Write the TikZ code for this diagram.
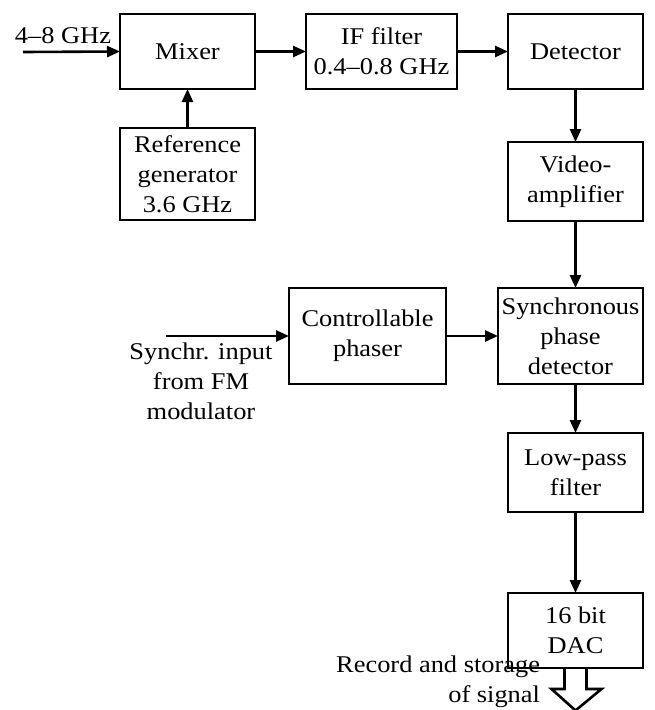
\documentclass[tikz,border=0pt]{standalone}
\usepackage{fontspec}
\setmainfont{Liberation Serif}[FakeStretch=1.1]
\usetikzlibrary{arrows.meta}

\begin{document}
\begin{tikzpicture}[x=1pt, y=-1pt, line width=2.6pt, >={Triangle[length=13pt,width=11pt]},
  every node/.style={inner sep=0pt, outer sep=0pt, align=center, font=\fontsize{24pt}{30pt}\selectfont},
  blk/.style={draw, line width=2.6pt}]
\useasboundingbox (0,0) rectangle (655,710);

% top row
\node[blk, minimum width=135pt, minimum height=75pt] (mixer) at (187.5,51.5) {Mixer};
\node[blk, minimum width=151pt, minimum height=75pt] (ifflt) at (381.5,51.5) {IF filter\\0.4--0.8 GHz};
\node[blk, minimum width=135pt, minimum height=75pt] (det) at (575.5,51.5) {Detector};
\node[blk, minimum width=135pt, minimum height=92pt] (refgen) at (187.5,174) {Reference\\generator\\3.6 GHz};

% right column
\node[blk, minimum width=135pt, minimum height=79pt] (vamp) at (575.5,181.5) {Video-\\amplifier};
\node[blk, minimum width=145pt, minimum height=96pt] (sync) at (570.5,336) {Synchronous\\phase\\detector};
\node[blk, minimum width=157pt, minimum height=96pt] (phaser) at (367.5,336) {Controllable\\phaser};
\node[blk, minimum width=135pt, minimum height=79pt] (lpf) at (575.5,472.5) {Low-pass\\filter};
\node[blk, minimum width=135pt, minimum height=75pt] (dac) at (575.5,630.5) {16 bit\\DAC};

% labels
\node[anchor=west] (rfin) at (15,35.5) {4--8 GHz};
\node (syncin) at (201,381) {Synchr. input\\from FM\\modulator};
\node[anchor=east, align=right] (rec) at (540,682) {Record and storage\\of signal};

\coordinate (rfstart) at (23,52);
\coordinate (syncstart) at (166,336);

% connectors
\draw[->] (rfstart) -- (mixer.west);
\draw[->] (mixer.east) -- (ifflt.west);
\draw[->] (ifflt.east) -- (det.west);
\draw[->] (refgen.north) -- (mixer.south);
\draw[->] (det.south) -- (vamp.north);
\draw[->] (vamp.south) -- (vamp.south |- sync.north);
\draw[->] (syncstart) -- (phaser.west);
\draw[->] (phaser.east) -- (sync.west);
\draw[->] (sync.south -| lpf.north) -- (lpf.north);
\draw[->] (lpf.south) -- (dac.north);

% output arrow
\draw[line join=miter] (dac.south) ++(-11,0) -- ++(0,21) -- ++(-13,0) -- ++(24,21.5) -- ++(26,-21.5) -- ++(-15,0) -- ++(0,-21);
\end{tikzpicture}
\end{document}
